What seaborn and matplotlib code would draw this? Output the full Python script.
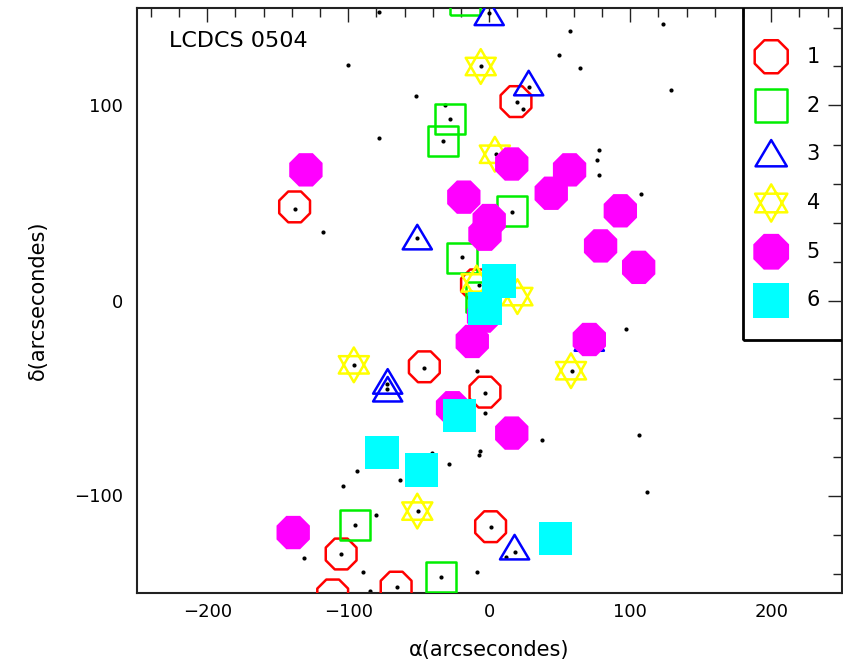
import matplotlib
matplotlib.use("Agg")
import matplotlib.pyplot as plt
from matplotlib.path import Path
from matplotlib.patches import Rectangle
from matplotlib.ticker import MultipleLocator
import seaborn as sns

# field galaxies (small black dots)
dot_x = [-78, -100, -52, -78, -31, -28, -33, -138, -118, -51, -19, -7.5, -6, 0,
         57, 123, 49.5, 64.5, 129, 28.5, 19.6, 24.3, 4.5, 78, 76.5, 78, 108, 16.5,
         -96, -46.4, -72.3, -72.3, -8.7, -2.8, -2.8, -6.4, -7.5, -28.3, -40.5, -94,
         -103.4, -63, -80.6, -95.4, -50.7, -131.7, -104.8, -89.5, -8.7, -34, -65.7,
         -84.8, 97.3, 58.4, 37.7, 106.2, 112, 1.4, 18, 12]
dot_y = [148, 121, 105, 83.5, 100, 93, 82, 47, 35, 32, 22.5, 8, 120, 147.5,
         138, 142, 126, 119, 108, 109.5, 102, 98.4, 75, 77.4, 72.3, 64.5, 54.6, 45.5,
         -33, -34.4, -42.6, -45.2, -36.2, -47.4, -57.5, -77, -79.3, -84, -78, -87.3,
         -95, -92, -110, -115, -108, -132, -130, -139.3, -139.3, -142, -147,
         -149.2, -14.5, -36.2, -71.3, -69.2, -98, -116.3, -129, -131.6]

# class 1 : red open octagons
x1 = [-138, 19, -9, -46, -3, 1, -105, -111, -66]
y1 = [48, 102, 8, -34, -47, -116, -130, -151, -147]
# class 2 : green open squares
x2 = [-28, -33, -17, 16, -19, -6, -95, -34]
y2 = [93, 82, 154, 46, 22, 2, -115, -142]
# class 3 : blue open triangles
x3 = [0, 28, -51, -72, -72, 18, 71]
y3 = [147, 111, 32, -42, -46, -127, -20]
# class 4 : yellow open stars
x4 = [-6, 4, -9, 20, -96, 58, -51]
y4 = [120, 75, 9, 2, -33, -36, -108]
# class 5 : magenta filled octagons
x5 = [-130, 16, 57, 44, -18, 0, -3, 93, 79, 106, 71, -12, -4, -26, 16, -139]
y5 = [67, 70, 67, 55, 53, 41, 34, 46, 28, 17, -20, -21, -8, -55, -68, -119]
# class 6 : cyan filled squares
x6 = [7, -3, -21, -76, -48, 47]
y6 = [10, -4, -59, -78, -87, -122]

labels = ["1", "2", "3", "4", "5", "6"]

hexagram = Path(
    [(0, 1), (-0.866, -0.5), (0.866, -0.5), (0, 1),
     (0, -1), (0.866, 0.5), (-0.866, 0.5), (0, -1)],
    [Path.MOVETO, Path.LINETO, Path.LINETO, Path.CLOSEPOLY,
     Path.MOVETO, Path.LINETO, Path.LINETO, Path.CLOSEPOLY])
triangle = Path([(0, 1), (-1.1, -0.85), (1.1, -0.85), (0, 1)],
                [Path.MOVETO, Path.LINETO, Path.LINETO, Path.CLOSEPOLY])

styles = [
    dict(marker="8", s=24 ** 2, facecolor="none", edgecolor="#ff0000", linewidth=1.8),
    dict(marker="s", s=21.5 ** 2, facecolor="none", edgecolor="#00ee00", linewidth=1.8),
    dict(marker=triangle, s=21 ** 2, facecolor="none", edgecolor="#0000ff", linewidth=1.8),
    dict(marker=hexagram, s=25 ** 2, facecolor="none", edgecolor="#ffff00", linewidth=1.8),
    dict(marker="8", s=26 ** 2, facecolor="#ff00ff", edgecolor="none", linewidth=0),
    dict(marker="s", s=24 ** 2, facecolor="#00ffff", edgecolor="none", linewidth=0),
]
groups = [(x1, y1), (x2, y2), (x3, y3), (x4, y4), (x5, y5), (x6, y6)]

sns.set_style("white")
plt.rcParams["font.family"] = ["DejaVu Sans"]
plt.rcParams["text.color"] = "black"
plt.rcParams["axes.labelcolor"] = "black"
plt.rcParams["xtick.color"] = "black"
plt.rcParams["ytick.color"] = "black"

fig = plt.figure(figsize=(8.43, 6.64), dpi=100)
ax = fig.add_axes([136.7 / 843, 71 / 664, 705 / 843, 585 / 664])

sns.scatterplot(x=dot_x, y=dot_y, marker="o", s=9, color="black",
                linewidth=0, ax=ax, zorder=2)
for (gx, gy), st in zip(groups, styles):
    sns.scatterplot(x=gx, y=gy, ax=ax, zorder=3, **st)

# legend panel in the upper right corner
ax.add_patch(Rectangle((180, -20), 80, 180, fill=False, edgecolor="black",
                       linewidth=2, zorder=5))
for i, (lab, st) in enumerate(zip(labels, styles)):
    leg_st = dict(st, s=st["s"] * 1.15)
    ax.scatter([200], [125 - 25 * i], zorder=6, **leg_st)
    ax.text(230, 125 - 25 * i, lab, fontsize=15, ha="center", va="center", zorder=6)

ax.text(0.046, 0.933, "LCDCS 0504", transform=ax.transAxes, fontsize=16,
        va="baseline", ha="left")

ax.set_xlim(-250, 250)
ax.set_ylim(-150, 150)
ax.xaxis.set_major_locator(MultipleLocator(100))
ax.xaxis.set_minor_locator(MultipleLocator(20))
ax.yaxis.set_major_locator(MultipleLocator(100))
ax.yaxis.set_minor_locator(MultipleLocator(20))
ax.tick_params(which="both", direction="in", top=True, right=True, width=1, color="#222222")
ax.tick_params(which="major", length=10, labelsize=13)
ax.tick_params(which="minor", length=6.5)
ax.tick_params(axis="x", pad=7)
ax.tick_params(axis="y", pad=10)
for sp in ax.spines.values():
    sp.set_linewidth(1.5)
    sp.set_color("#222222")

ax.set_xlabel("α(arcsecondes)", fontsize=15)
ax.set_ylabel("δ(arcsecondes)", fontsize=15)
ax.xaxis.set_label_coords(0.4997, -0.080)
ax.yaxis.set_label_coords(-0.1265, 0.5)

fig.savefig("out.png", dpi=100)
